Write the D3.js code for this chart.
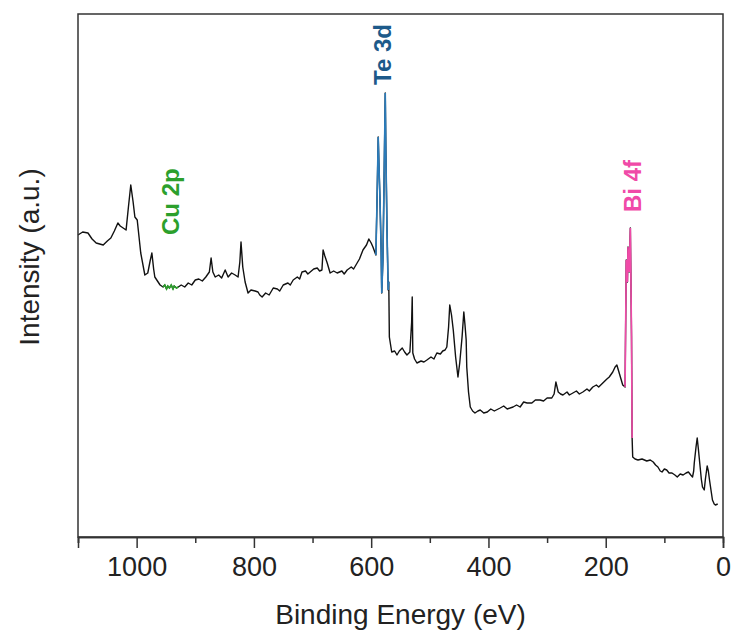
<html>
<script src="https://d3js.org/d3.v7.min.js"></script>
<body style="margin:0;background:#fff">
<script>
    var width = 734
    var height = 634
    var margin = {left: 78, right: 11, top: 14, bottom: 97}

    // survey spectrum: binding energy (eV) and intensity (a.u.)
    var energy = [1100, 1092, 1083, 1076, 1069, 1057, 1050, 1044, 1038, 1032, 1028, 1023, 1018, 1014, 1010, 1006, 1003, 999,
        993, 986, 981, 977, 974, 971, 969, 960, 955,
        952, 949, 947, 944, 941, 938, 936, 932, 929,
        924, 918, 912, 906, 900, 894, 888, 882, 876, 873, 870, 866, 860, 855, 849, 844, 838, 832, 827, 824, 822, 819,
        815, 810, 805, 798, 793, 790, 786, 780, 774, 767, 760, 756, 750, 742, 738, 733, 726, 722, 718, 712, 708, 704,
        698, 692, 688, 684, 682, 679, 675, 670, 664, 658, 650, 646, 641, 634, 630, 624, 620, 614, 608, 604, 600, 597, 592,
        590, 588, 587, 585, 583, 582, 580, 578, 576, 575, 573, 571, 570,
        569, 565, 560, 556, 552, 547, 543, 539, 534, 531, 530, 529, 526, 522, 515, 510, 505, 498, 493, 488, 482, 478,
        474, 471, 468, 466, 463, 460, 456, 452, 449, 445, 442, 440, 438, 437, 434, 431, 427, 423, 418, 414, 408, 402,
        396, 390, 380, 374, 368, 358, 352, 346, 340, 334, 326, 320, 312, 306, 300, 292, 288, 285, 283, 281, 277, 273,
        266, 262, 256, 250, 245, 239, 232, 228, 222, 216, 212, 205, 198, 194, 188, 184, 181, 178, 174, 171, 167,
        165, 163, 162, 160, 158, 156, 155,
        154, 150, 145, 138, 130, 124, 119, 115, 111, 107, 104, 100, 96, 92, 87, 82, 78, 73, 68, 63, 59, 55, 52, 50,
        49, 46, 44, 42, 39, 37, 35, 32, 30, 27, 25, 23, 20, 18, 15, 13, 9]
    var intensity = [302, 305, 304, 298, 294, 292, 296, 299, 306, 314, 311, 309, 307, 330, 352, 335, 320, 317,
        284, 262, 264, 276, 284, 268, 260, 252, 250,
        252, 248, 251, 249, 252, 248, 251, 249, 250,
        252, 250, 254, 252, 257, 258, 256, 260, 265, 279, 265, 260, 262, 259, 267, 260, 264, 262, 260, 275, 295, 270,
        255, 244, 247, 246, 245, 242, 240, 244, 242, 249, 248, 246, 252, 254, 252, 257, 260, 258, 265, 266, 263, 265,
        268, 269, 266, 267, 287, 281, 274, 264, 266, 264, 266, 263, 267, 270, 268, 274, 278, 287, 292, 298, 294, 290, 282,
        337, 400, 377, 337, 287, 244, 277, 357, 444, 387, 307, 247, 255,
        200, 185, 186, 182, 186, 189, 185, 182, 185, 215, 240, 184, 178, 174, 176, 175, 177, 180, 178, 184, 183, 186,
        187, 190, 210, 232, 222, 207, 180, 160, 174, 200, 225, 212, 197, 170, 145, 130, 126, 124, 126, 127, 124, 125,
        128, 126, 129, 131, 128, 130, 132, 130, 135, 134, 134, 137, 137, 136, 139, 139, 143, 155, 150, 145, 143, 142,
        145, 142, 144, 146, 143, 145, 148, 146, 150, 152, 150, 154, 158, 160, 165, 170, 172, 166, 158, 152, 150,
        277, 255, 290, 265, 309, 200, 99,
        80, 78, 77, 78, 76, 77, 75, 72, 70, 66, 65, 68, 67, 64, 64, 62, 60, 63, 62, 64, 65, 62, 60, 66,
        74, 90, 99, 88, 70, 58, 50, 47, 58, 71, 66, 57, 45, 37, 33, 32, 33]

    var xTicks = [1000, 800, 600, 400, 200, 0]
    var xMinor = [1100, 900, 700, 500, 300, 100]

    // coloured parts of the trace: [high BE, low BE]
    var regions = [
        {name: 'Cu 2p', from: 955, to: 929, line: '#2ca02c', text: '#2ca02c', lx: 179, ly: 235},
        {name: 'Te 3d', from: 592, to: 570, line: '#2b7bb9', text: '#1d5a8a', lx: 391, ly: 85},
        {name: 'Bi 4f', from: 167, to: 155, line: '#f04aa8', text: '#f04aa8', lx: 641, ly: 212}
    ]

    var data = energy.map(function(e, i) { return {be: e, y: intensity[i]} })

    var svg = d3.select('body').append('svg').attr('width', width).attr('height', height)
        .style('font-family', 'Arial, "Liberation Sans", sans-serif')

    var x = d3.scaleLinear().domain([1100, 0]).range([margin.left, width - margin.right])
    var y = d3.scaleLinear().domain([0, 523]).range([height - margin.bottom, margin.top])

    var line = d3.line().x(function(d) { return x(d.be) }).y(function(d) { return y(d.y) })

    svg.append('path').datum(data).attr('d', line)
        .attr('fill', 'none').attr('stroke', '#111').attr('stroke-width', 1.4).attr('stroke-linejoin', 'round')

    regions.forEach(function(r) {
        var part = data.filter(function(d) { return d.be <= r.from && d.be >= r.to })
        svg.append('path').datum(part).attr('d', line)
            .attr('fill', 'none').attr('stroke', r.line).attr('stroke-width', 1.6)
        svg.append('text').text(r.name)
            .attr('transform', 'translate(' + r.lx + ',' + r.ly + ') rotate(-90)')
            .attr('fill', r.text).attr('font-size', 24).attr('font-weight', 'bold')
    })

    // frame
    var x0 = margin.left, x1 = width - margin.right, y0 = margin.top, y1 = height - margin.bottom
    svg.append('rect').attr('x', x0).attr('y', y0).attr('width', x1 - x0).attr('height', y1 - y0)
        .attr('fill', 'none').attr('stroke', '#333').attr('stroke-width', 1.5)

    var gx = svg.append('g').attr('transform', 'translate(0,' + y1 + ')')
    gx.call(d3.axisBottom(x).tickValues(xMinor).tickSize(6).tickFormat(''))
    gx.call(function(g) {
        g.append('g').call(d3.axisBottom(x).tickValues(xTicks).tickSize(11).tickPadding(9).tickFormat(d3.format('d')))
    })
    gx.selectAll('.domain').attr('stroke', '#333').attr('stroke-width', 1.5)
    gx.selectAll('.tick line').attr('stroke', '#333').attr('stroke-width', 1.5)
    gx.selectAll('text').attr('font-size', 27).attr('fill', '#222').attr('font-family', 'Arial, "Liberation Sans", sans-serif')

    svg.append('text').text('Binding Energy (eV)')
        .attr('x', (x0 + x1) / 2).attr('y', 624).attr('text-anchor', 'middle')
        .attr('font-size', 28).attr('fill', '#222')

    svg.append('text').text('Intensity (a.u.)')
        .attr('transform', 'translate(39,257) rotate(-90)').attr('text-anchor', 'middle')
        .attr('font-size', 28).attr('fill', '#222')
</script>
</body>
</html>
